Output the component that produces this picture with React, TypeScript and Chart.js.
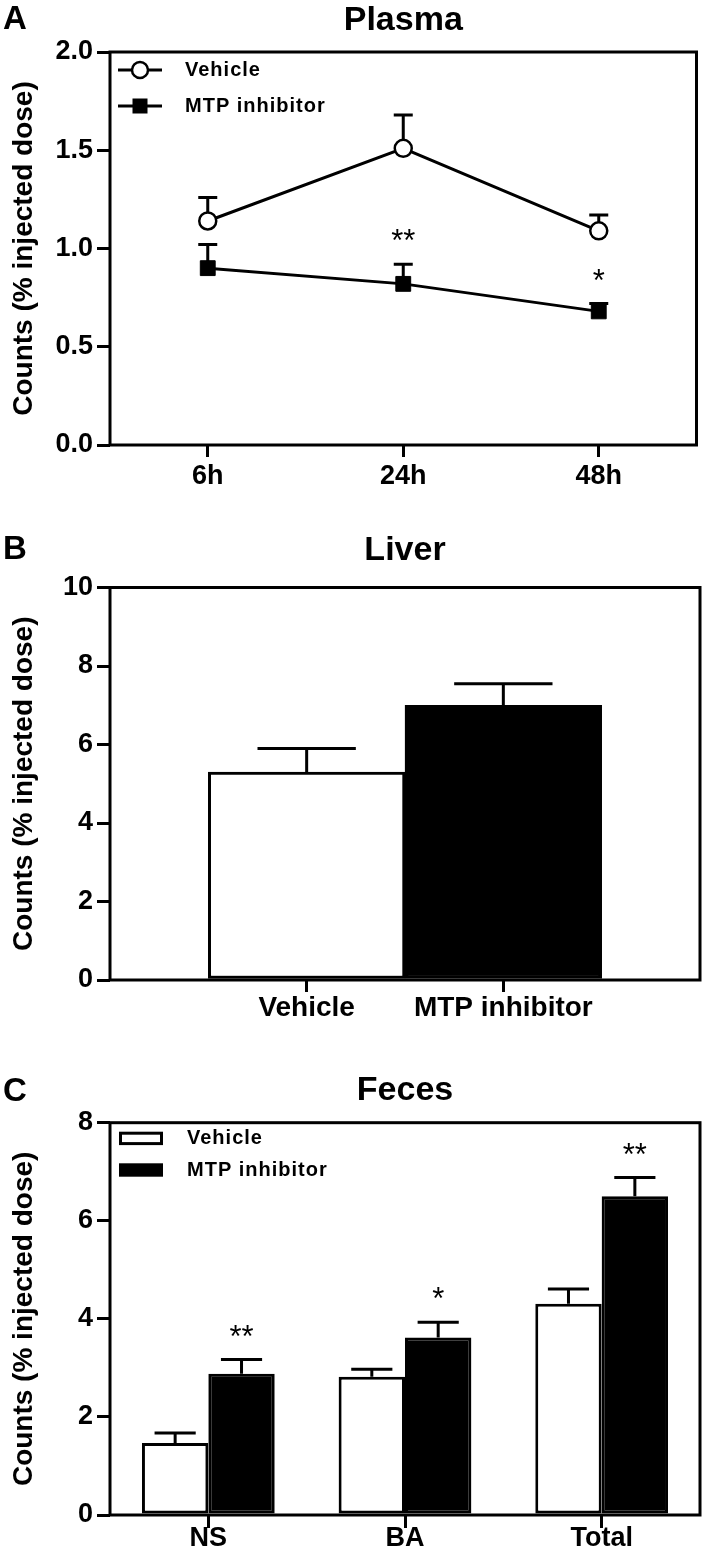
import React, { useEffect, useRef } from 'react';
import { Chart, registerables } from 'chart.js';
Chart.register(...registerables);

const FONT = '"Liberation Sans", Arial, Helvetica, sans-serif';

// ---------- Panel A: Plasma ----------
const plasmaTimes = ['6h', '24h', '48h'];
const plasmaVehicle = [1.14, 1.51, 1.09];
const plasmaVehicleErr = [0.12, 0.17, 0.08];
const plasmaMtp = [0.9, 0.82, 0.68];
const plasmaMtpErr = [0.12, 0.1, 0.04];
const plasmaYTicks = [0, 0.5, 1.0, 1.5, 2.0];
const plasmaStars = ['', '**', '*'];

// ---------- Panel B: Liver ----------
const liverGroups = ['Vehicle', 'MTP inhibitor'];
const liverValues = [5.3, 7.0];
const liverErr = [0.6, 0.55];
const liverYTicks = [0, 2, 4, 6, 8, 10];

// ---------- Panel C: Feces ----------
const fecesCategories = ['NS', 'BA', 'Total'];
const fecesVehicle = [1.47, 2.82, 4.31];
const fecesVehicleErr = [0.2, 0.15, 0.3];
const fecesMtp = [2.88, 3.62, 6.5];
const fecesMtpErr = [0.29, 0.31, 0.38];
const fecesYTicks = [0, 2, 4, 6, 8];
const fecesStars = ['**', '*', '**'];

const seriesNames = ['Vehicle', 'MTP inhibitor'];
const yTitle = 'Counts (% injected dose)';

const yAxis = (ticks: number[], max: number, decimals: number) => ({
  min: 0,
  max,
  border: { display: false },
  grid: { drawOnChartArea: false, drawTicks: true, tickLength: 13, tickWidth: 3, tickColor: '#000', color: '#000', lineWidth: 3 },
  ticks: {
    color: '#000',
    padding: 4,
    font: { family: FONT, size: 27, weight: 'bold' },
    callback: (v: any) => Number(v).toFixed(decimals),
  },
  afterBuildTicks: (s: any) => {
    s.ticks = ticks.map((v) => ({ value: v }));
  },
  afterFit: (s: any) => {
    s.width = 110;
  },
});

const xGrid = { drawOnChartArea: false, drawTicks: true, tickLength: 12, tickWidth: 3, tickColor: '#000', color: '#000', lineWidth: 3 };

function errorBars(errs: number[][], mode: 'point' | 'bar', capRatio: number, capPx: number) {
  const draw = (chart: any) => {
    const ctx = chart.ctx;
    const ys = chart.scales.y;
    ctx.save();
    ctx.strokeStyle = '#000';
    ctx.lineWidth = 3;
    errs.forEach((arr, di) => {
      const meta = chart.getDatasetMeta(di);
      const data = chart.data.datasets[di].data;
      meta.data.forEach((el: any, j: number) => {
        const d = data[j];
        const v = typeof d === 'number' ? d : d.y;
        const top = ys.getPixelForValue(v + arr[j]);
        const half = mode === 'bar' ? (el.width * capRatio) / 2 : capPx / 2;
        ctx.beginPath();
        ctx.moveTo(el.x, el.y);
        ctx.lineTo(el.x, top);
        ctx.moveTo(el.x - half, top);
        ctx.lineTo(el.x + half, top);
        ctx.stroke();
      });
    });
    ctx.restore();
  };
  return mode === 'point'
    ? { id: 'errbars', beforeDatasetsDraw: draw }
    : { id: 'errbars', afterDatasetsDraw: draw };
}

function starsPlugin(dsIndex: number, stars: string[], errs: number[]) {
  return {
    id: 'stars',
    afterDatasetsDraw(chart: any) {
      const ctx = chart.ctx;
      const ys = chart.scales.y;
      const meta = chart.getDatasetMeta(dsIndex);
      const data = chart.data.datasets[dsIndex].data;
      ctx.save();
      ctx.fillStyle = '#000';
      ctx.font = `normal 31px ${FONT}`;
      ctx.textAlign = 'center';
      ctx.textBaseline = 'alphabetic';
      meta.data.forEach((el: any, j: number) => {
        if (!stars[j]) return;
        const d = data[j];
        const v = typeof d === 'number' ? d : d.y;
        const cy = ys.getPixelForValue(v + errs[j]) - 30;
        ctx.fillText(stars[j], el.x, cy + 17);
      });
      ctx.restore();
    },
  };
}

function decor(letter: string, letterBase: number, title: string, titleBase: number, legend?: (ctx: any, a: any) => void) {
  return {
    id: 'decor',
    afterDraw(chart: any) {
      const ctx = chart.ctx;
      const a = chart.chartArea;
      ctx.save();
      ctx.strokeStyle = '#000';
      ctx.lineWidth = 3;
      ctx.strokeRect(a.left, a.top, a.right - a.left, a.bottom - a.top);
      ctx.fillStyle = '#000';
      ctx.textAlign = 'center';
      ctx.textBaseline = 'alphabetic';
      ctx.font = `bold 33px ${FONT}`;
      ctx.fillText(letter, 15, letterBase);
      ctx.font = `bold 34px ${FONT}`;
      ctx.fillText(title, (a.left + a.right) / 2, titleBase);
      ctx.save();
      ctx.translate(32, (a.top + a.bottom) / 2);
      ctx.rotate(-Math.PI / 2);
      ctx.font = `bold 28px ${FONT}`;
      ctx.fillText(yTitle, 0, 0);
      ctx.restore();
      if (legend) legend(ctx, a);
      ctx.restore();
    },
  };
}

const legendA = (ctx: any, a: any) => {
  seriesNames.forEach((name, i) => {
    const cy = a.top + 18 + i * 36;
    const x0 = a.left + 8;
    const x1 = a.left + 52;
    const cx = (x0 + x1) / 2;
    ctx.save();
    ctx.strokeStyle = '#000';
    ctx.lineWidth = 3;
    ctx.beginPath();
    ctx.moveTo(x0, cy);
    ctx.lineTo(x1, cy);
    ctx.stroke();
    if (i === 0) {
      ctx.beginPath();
      ctx.arc(cx, cy, 8, 0, Math.PI * 2);
      ctx.fillStyle = '#fff';
      ctx.fill();
      ctx.lineWidth = 2.5;
      ctx.stroke();
    } else {
      ctx.fillStyle = '#000';
      ctx.fillRect(cx - 7.5, cy - 7.5, 15, 15);
    }
    ctx.fillStyle = '#000';
    ctx.font = `bold 20px ${FONT}`;
    (ctx as any).letterSpacing = '1px';
    ctx.textAlign = 'left';
    ctx.textBaseline = 'middle';
    ctx.fillText(name, a.left + 75, cy);
    ctx.restore();
  });
};

const legendC = (ctx: any, a: any) => {
  seriesNames.forEach((name, i) => {
    const cy = a.top + 15.7 + i * 31.6;
    const x0 = a.left + 9;
    ctx.save();
    if (i === 0) {
      ctx.fillStyle = '#fff';
      ctx.fillRect(x0, cy - 6.7, 44, 13.4);
      ctx.strokeStyle = '#000';
      ctx.lineWidth = 3;
      ctx.strokeRect(x0 + 1.5, cy - 5.2, 41, 10.4);
    } else {
      ctx.fillStyle = '#000';
      ctx.fillRect(x0, cy - 6.7, 44, 13.4);
    }
    ctx.fillStyle = '#000';
    ctx.font = `bold 20px ${FONT}`;
    (ctx as any).letterSpacing = '1px';
    ctx.textAlign = 'left';
    ctx.textBaseline = 'middle';
    ctx.fillText(name, a.left + 77, cy);
    ctx.restore();
  });
};

function buildPlasma(canvas: HTMLCanvasElement) {
  return new Chart(canvas, {
    type: 'line',
    data: {
      labels: plasmaTimes,
      datasets: [
        {
          label: seriesNames[0],
          data: plasmaVehicle,
          borderColor: '#000',
          borderWidth: 3,
          backgroundColor: '#fff',
          pointStyle: 'circle',
          pointRadius: 8.5,
          pointBorderWidth: 2.5,
          pointBackgroundColor: '#fff',
          pointBorderColor: '#000',
          tension: 0,
        },
        {
          label: seriesNames[1],
          data: plasmaMtp,
          borderColor: '#000',
          borderWidth: 3,
          backgroundColor: '#000',
          pointStyle: 'rect',
          pointRadius: 10.5,
          pointBorderWidth: 1,
          pointBackgroundColor: '#000',
          pointBorderColor: '#000',
          tension: 0,
        },
      ],
    },
    options: {
      responsive: false,
      animation: false,
      devicePixelRatio: 1,
      layout: { padding: { left: 0, top: 52, right: 8, bottom: 0 } },
      plugins: { legend: { display: false }, title: { display: false }, tooltip: { enabled: false } },
      scales: {
        x: {
          type: 'category',
          offset: true,
          border: { display: false },
          grid: { ...xGrid, offset: false },
          ticks: { color: '#000', padding: 3, font: { family: FONT, size: 27, weight: 'bold' } },
          afterFit: (s: any) => {
            s.height = 55;
          },
        },
        y: yAxis(plasmaYTicks, 2, 1) as any,
      },
    } as any,
    plugins: [
      errorBars([plasmaVehicleErr, plasmaMtpErr], 'point', 0, 19),
      starsPlugin(1, plasmaStars, plasmaMtpErr),
      decor('A', 29, 'Plasma', 30, legendA),
    ] as any,
  });
}

function buildLiver(canvas: HTMLCanvasElement) {
  return new Chart(canvas, {
    type: 'bar',
    data: {
      datasets: [
        {
          label: 'Liver',
          data: liverValues.map((v, i) => ({ x: i + 1, y: v })),
          backgroundColor: ['#fff', '#000'],
          borderColor: '#000',
          borderWidth: 3,
          borderSkipped: false,
          categoryPercentage: 1,
          barPercentage: 1,
        },
      ],
    },
    options: {
      responsive: false,
      animation: false,
      devicePixelRatio: 1,
      layout: { padding: { left: 0, top: 87.5, right: 8, bottom: 0 } },
      plugins: { legend: { display: false }, title: { display: false }, tooltip: { enabled: false } },
      scales: {
        x: {
          type: 'linear',
          min: 0,
          max: liverGroups.length + 1,
          offset: false,
          border: { display: false },
          grid: { ...xGrid, offset: false },
          ticks: {
            color: '#000',
            padding: -1,
            font: { family: FONT, size: 28, weight: 'bold' },
            callback: (v: any) => liverGroups[Number(v) - 1] ?? '',
          },
          afterBuildTicks: (s: any) => {
            s.ticks = liverGroups.map((_, i) => ({ value: i + 1 }));
          },
          afterFit: (s: any) => {
            s.height = 50;
          },
        },
        y: yAxis(liverYTicks, 10, 0) as any,
      },
    } as any,
    plugins: [errorBars([liverErr], 'bar', 0.5, 0), decor('B', 59, 'Liver', 60)] as any,
  });
}

function buildFeces(canvas: HTMLCanvasElement) {
  return new Chart(canvas, {
    type: 'bar',
    data: {
      labels: fecesCategories,
      datasets: [
        {
          label: seriesNames[0],
          data: fecesVehicle,
          backgroundColor: '#fff',
          borderColor: '#000',
          borderWidth: 3,
          borderSkipped: false,
          categoryPercentage: 0.675,
          barPercentage: 1,
        },
        {
          label: seriesNames[1],
          data: fecesMtp,
          backgroundColor: '#000',
          borderColor: '#000',
          borderWidth: 3,
          borderSkipped: false,
          categoryPercentage: 0.675,
          barPercentage: 1,
        },
      ],
    },
    options: {
      responsive: false,
      animation: false,
      devicePixelRatio: 1,
      layout: { padding: { left: 0, top: 92.7, right: 8, bottom: 0 } },
      plugins: { legend: { display: false }, title: { display: false }, tooltip: { enabled: false } },
      scales: {
        x: {
          type: 'category',
          offset: true,
          border: { display: false },
          grid: { ...xGrid, tickLength: 13, offset: false },
          ticks: { color: '#000', padding: -6, font: { family: FONT, size: 27, weight: 'bold' } },
          afterFit: (s: any) => {
            s.height = 43;
          },
        },
        y: yAxis(fecesYTicks, 8, 0) as any,
      },
    } as any,
    plugins: [
      errorBars([fecesVehicleErr, fecesMtpErr], 'bar', 0.62, 0),
      starsPlugin(1, fecesStars, fecesMtpErr),
      decor('C', 71, 'Feces', 70, legendC),
    ] as any,
  });
}

function Panel({ top, height, build }: { top: number; height: number; build: (c: HTMLCanvasElement) => Chart }) {
  const ref = useRef<HTMLCanvasElement>(null);
  useEffect(() => {
    const chart = build(ref.current as HTMLCanvasElement);
    return () => chart.destroy();
  }, [build]);
  return (
    <canvas
      ref={ref}
      width={708}
      height={height}
      style={{ position: 'absolute', left: 0, top, width: 708, height, display: 'block' }}
    />
  );
}

export default function App() {
  return (
    <div style={{ position: 'absolute', left: 0, top: 0, width: 708, height: 1558, background: '#fff', overflow: 'hidden' }}>
      <Panel top={0} height={500} build={buildPlasma} />
      <Panel top={500} height={530} build={buildLiver} />
      <Panel top={1030} height={528} build={buildFeces} />
    </div>
  );
}
